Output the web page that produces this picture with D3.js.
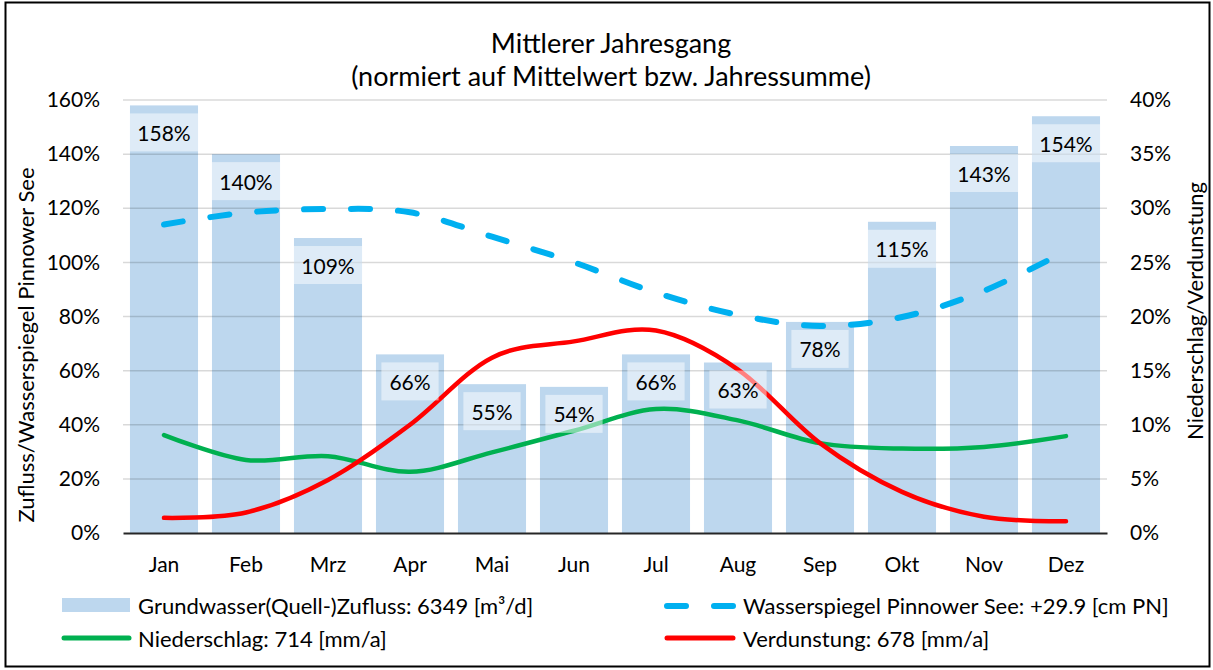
<!DOCTYPE html>
<html>
<head>
<meta charset="utf-8">
<script src="https://cdn.jsdelivr.net/npm/d3@7"></script>
<style>
  html, body { margin: 0; padding: 0; background: #fff; }
  svg { display: block; }
  text { font-family: Lato, "Open Sans", sans-serif; fill: #000; }
</style>
</head>
<body>
<svg id="chart" width="1213" height="670"></svg>
<script>
// ---------- data ----------
const months = ["Jan","Feb","Mrz","Apr","Mai","Jun","Jul","Aug","Sep","Okt","Nov","Dez"];
const zufluss = [158,140,109,66,55,54,66,63,78,115,143,154];           // left axis, %
const wasserspiegel = [114,118.4,119.7,118.5,109.5,100,88.8,80.6,76.5,79.8,89.5,104.2]; // left axis, %
const niederschlag = [9.05,6.75,7.1,5.65,7.45,9.45,11.45,10.4,8.3,7.8,7.95,8.95]; // right axis, %
const verdunstung = [1.4,1.9,4.9,10.0,16.2,17.7,18.7,15.1,8.3,3.8,1.5,1.08];       // right axis, %
const leftTicks = [0,20,40,60,80,100,120,140,160];
const rightTicks = [0,5,10,15,20,25,30,35,40];
const titleLines = ["Mittlerer Jahresgang","(normiert auf Mittelwert bzw. Jahressumme)"];
const leftTitle = "Zufluss/Wasserspiegel Pinnower See";
const rightTitle = "Niederschlag/Verdunstung";
const legendLabels = [
  "Grundwasser(Quell-)Zufluss: 6349 [m³/d]",
  "Wasserspiegel Pinnower See: +29.9 [cm PN]",
  "Niederschlag: 714 [mm/a]",
  "Verdunstung: 678 [mm/a]"
];

// ---------- layout ----------
const svg = d3.select("#chart");
const X0 = 123, X1 = 1107, Y0 = 100, Y1 = 533;
const C = { bar:"#bdd7ee", green:"#00b050", red:"#ff0000", blue:"#00b0f0", grid:"rgba(0,0,0,0.15)" };
const FS = 21;     // ticks & data labels
const FL = 22;     // legend & axis titles
const FT = 27;     // chart title

svg.append("rect").attr("x",5.5).attr("y",2.5).attr("width",1204).attr("height",664)
  .attr("fill","#fff").attr("stroke","#000").attr("stroke-width",2);

const x = d3.scaleBand().domain(months).range([X0,X1]).paddingInner(0.17).paddingOuter(0.085);
const yL = d3.scaleLinear().domain([0,160]).range([Y1,Y0]);
const yR = d3.scaleLinear().domain([0,40]).range([Y1,Y0]);
const cx = m => x(m) + x.bandwidth()/2;

// title
svg.append("text").attr("x",611).attr("y",53).attr("text-anchor","middle")
  .attr("font-size",FT).text(titleLines[0]);
svg.append("text").attr("x",611).attr("y",86).attr("text-anchor","middle")
  .attr("font-size",FT).text(titleLines[1]);

// bars
svg.append("g").selectAll("rect").data(months).join("rect")
  .attr("x", m => x(m)).attr("width", x.bandwidth())
  .attr("y", (m,i) => yL(zufluss[i])).attr("height", (m,i) => Y1 - yL(zufluss[i]))
  .attr("fill", C.bar);

// gridlines (drawn over bars)
svg.append("g").selectAll("line").data(leftTicks.slice(1)).join("line")
  .attr("x1",X0).attr("x2",X1).attr("y1",d=>yL(d)).attr("y2",d=>yL(d))
  .attr("stroke",C.grid).attr("stroke-width",1.5);

// x axis
const xAxis = svg.append("g").attr("transform",`translate(0,${Y1})`)
  .call(d3.axisBottom(x).tickSize(0).tickPadding(24));
xAxis.select(".domain").attr("stroke","#262626").attr("stroke-width",2);
xAxis.selectAll("text").attr("font-size",FS).attr("font-family","Lato").attr("fill","#000");

// left axis
const yAxisL = svg.append("g").attr("transform",`translate(${X0-23},0)`)
  .call(d3.axisLeft(yL).tickValues(leftTicks).tickSize(0).tickPadding(0).tickFormat(d=>d+"%"));
yAxisL.select(".domain").remove();
yAxisL.selectAll("text").attr("font-size",FS).attr("font-family","Lato").attr("fill","#000");

// right axis
const yAxisR = svg.append("g").attr("transform",`translate(${X1+23},0)`)
  .call(d3.axisRight(yR).tickValues(rightTicks).tickSize(0).tickPadding(0).tickFormat(d=>d+"%"));
yAxisR.select(".domain").remove();
yAxisR.selectAll("text").attr("font-size",FS).attr("font-family","Lato").attr("fill","#000");

// axis titles
svg.append("text").attr("transform","translate(34,345) rotate(-90)").attr("text-anchor","middle")
  .attr("font-size",FL).text(leftTitle);
svg.append("text").attr("transform","translate(1203,311) rotate(-90)").attr("text-anchor","middle")
  .attr("font-size",FL).text(rightTitle);

// lines
const curve = d3.curveCardinal.tension(0);
const lineR = d3.line().x((d,i)=>cx(months[i])).y(d=>yR(d)).curve(curve);
const lineL = d3.line().x((d,i)=>cx(months[i])).y(d=>yL(d)).curve(curve);

svg.append("path").attr("d",lineR(niederschlag)).attr("fill","none")
  .attr("stroke",C.green).attr("stroke-width",4.5).attr("stroke-linecap","round");
svg.append("path").attr("d",lineR(verdunstung)).attr("fill","none")
  .attr("stroke",C.red).attr("stroke-width",4.5).attr("stroke-linecap","round");
svg.append("path").attr("d",lineL(wasserspiegel)).attr("fill","none")
  .attr("stroke",C.blue).attr("stroke-width",6).attr("stroke-linecap","round")
  .attr("stroke-dasharray","19,28");

// data labels
const lab = svg.append("g").selectAll("g").data(months).join("g");
lab.each(function(m,i){
  const g = d3.select(this);
  const t = g.append("text").attr("x",cx(m)).attr("y",yL(zufluss[i])+8+19)
    .attr("text-anchor","middle").attr("dominant-baseline","central")
    .attr("font-size",FS).text(zufluss[i]+"%");
  const w = Math.min(t.node().getComputedTextLength() + 16, x.bandwidth());
  g.insert("rect","text").attr("x",cx(m)-w/2).attr("width",w)
    .attr("y",yL(zufluss[i])+8).attr("height",38)
    .attr("fill","rgba(255,255,255,0.5)");
});

// legend
const lg = svg.append("g");
lg.append("rect").attr("x",62).attr("y",598).attr("width",68).attr("height",14).attr("fill",C.bar);
lg.append("text").attr("x",138).attr("y",605).attr("dominant-baseline","central").attr("font-size",FL).text(legendLabels[0]);
lg.append("line").attr("x1",667).attr("x2",733).attr("y1",606).attr("y2",606)
  .attr("stroke",C.blue).attr("stroke-width",6).attr("stroke-linecap","round")
  .attr("stroke-dasharray","19,28");
lg.append("text").attr("x",743).attr("y",605).attr("dominant-baseline","central").attr("font-size",FL).text(legendLabels[1]);
lg.append("line").attr("x1",64).attr("x2",129).attr("y1",638).attr("y2",638)
  .attr("stroke",C.green).attr("stroke-width",5).attr("stroke-linecap","round");
lg.append("text").attr("x",138).attr("y",638).attr("dominant-baseline","central").attr("font-size",FL).text(legendLabels[2]);
lg.append("line").attr("x1",667).attr("x2",733).attr("y1",638).attr("y2",638)
  .attr("stroke",C.red).attr("stroke-width",5).attr("stroke-linecap","round");
lg.append("text").attr("x",743).attr("y",638).attr("dominant-baseline","central").attr("font-size",FL).text(legendLabels[3]);
</script>
</body>
</html>
